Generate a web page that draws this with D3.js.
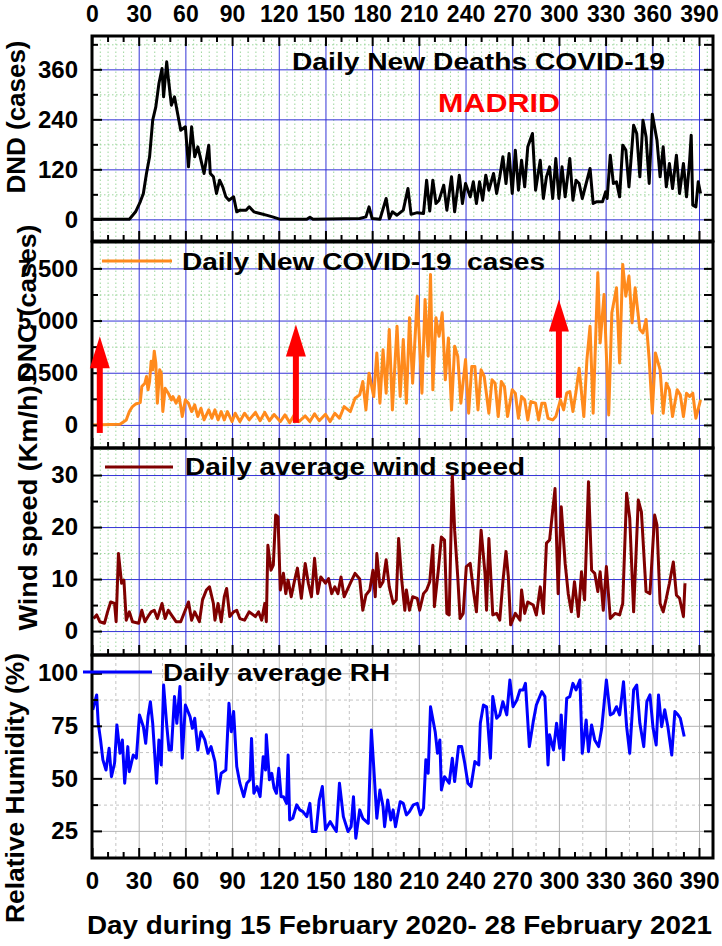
<!DOCTYPE html>
<html>
<head>
<meta charset="utf-8">
<script src="https://cdn.jsdelivr.net/npm/d3@7/dist/d3.min.js"></script>
<style>
  body { margin: 0; background: #fff; }
  svg text { font-family: "Liberation Sans", Arial, Helvetica, sans-serif; font-weight: bold; fill: #000; }
  .legend { white-space: pre; }
</style>
</head>
<body>
<div id="chart"></div>
<script>
// ---- data (day since 15 Feb 2020) ----
const xTicks = [0, 30, 60, 90, 120, 150, 180, 210, 240, 270, 300, 330, 360, 390];

const dndTicks = [0, 120, 240, 360];
const dncTicks = [0, 2500, 5000, 7500];
const windTicks = [0, 10, 20, 30];
const rhTicks = [25, 50, 75, 100];

const dndDays = [0, 24, 28, 31, 33, 35, 37, 39, 41, 43, 45, 46, 48, 49, 51, 53, 55, 57, 60, 62, 64, 66, 68, 70, 72, 75, 76, 78, 80, 82, 84, 86, 88, 91, 93, 95, 99, 101, 104, 108, 112, 116, 121, 138, 140, 142, 172, 176, 178, 180, 185, 189, 191, 193, 196, 200, 203, 205, 209, 213, 215, 217, 219, 221, 223, 226, 228, 231, 233, 236, 238, 240, 243, 245, 247, 249, 251, 253, 255, 258, 260, 262, 264, 266, 268, 270, 272, 274, 276, 278, 280, 283, 285, 288, 290, 292, 294, 296, 298, 300, 302, 304, 307, 309, 311, 313, 315, 320, 322, 324, 328, 330, 331, 333, 335, 337, 339, 341, 343, 345, 348, 350, 352, 354, 356, 358, 360, 363, 365, 367, 369, 371, 373, 375.5, 377.5, 380, 382, 384, 385, 386, 388, 389.5, 391];
const dndValues = [0, 0, 18, 42, 62, 110, 150, 238, 270, 326, 362, 294, 378, 340, 274, 294, 254, 214, 222, 126, 222, 150, 174, 142, 110, 178, 110, 102, 62, 94, 78, 54, 46, 54, 18, 22, 22, 30, 18, 14, 10, 6, 0, 0, 5, 0, 2, 6, 30, 2, 0, 50, 2, 18, 10, 22, 74, 12, 16, 14, 94, 20, 94, 38, 46, 82, 22, 102, 18, 106, 38, 86, 54, 90, 38, 90, 46, 106, 70, 110, 62, 102, 150, 86, 158, 62, 166, 70, 142, 78, 174, 206, 70, 142, 50, 102, 126, 50, 146, 50, 126, 54, 146, 46, 94, 86, 50, 122, 38, 42, 42, 66, 50, 154, 86, 90, 54, 178, 166, 78, 226, 206, 102, 238, 198, 86, 252, 190, 102, 174, 78, 134, 74, 154, 62, 134, 54, 142, 202, 34, 30, 90, 62];

const dncDays = [0, 18, 22, 24, 26, 28, 31, 32, 34, 35, 36, 37, 38, 39, 40, 41, 42, 43.5, 44.5, 45.5, 47, 49, 51, 52, 54, 56, 58, 60, 62, 64, 66, 68, 70, 72, 75, 77, 79, 81, 83, 85, 87, 90, 92, 95, 98, 101, 105, 108, 111, 114, 117, 121, 124, 127, 130, 133, 137, 140, 143, 146, 150, 153, 156, 159, 162, 166, 169, 172, 174, 176, 178, 181, 183, 185, 187, 189, 191, 193, 196, 198, 200, 202, 204, 206, 209, 212, 214, 216, 217.5, 219, 221, 223, 225, 227, 229, 231, 233, 235, 237, 240, 242, 244, 246, 248, 250, 252, 255, 257, 259, 261, 263, 265, 267, 270, 272, 274, 276, 278, 280, 282, 285, 287, 289, 291, 293, 296, 298, 301, 303, 305, 307, 309, 311, 313, 316, 318, 320, 322, 325, 326.5, 329, 332, 334, 337, 339, 341, 343, 345, 347, 349, 352, 354, 356, 358, 360, 362, 365, 367, 369, 371, 373, 376, 378, 380, 382, 384, 386, 388, 391];
const dncValues = [0, 30, 240, 640, 880, 1000, 1070, 1840, 2000, 2320, 1680, 2080, 3050, 2640, 3530, 2970, 1040, 2640, 2480, 640, 1760, 1520, 1200, 1360, 1040, 1360, 400, 1200, 1040, 640, 960, 400, 800, 240, 720, 320, 720, 240, 640, 240, 640, 160, 560, 160, 560, 240, 600, 200, 600, 200, 500, 160, 480, 110, 480, 160, 430, 160, 530, 200, 510, 160, 560, 320, 880, 640, 1280, 1440, 2080, 720, 2480, 1360, 3450, 1040, 3600, 1520, 4570, 720, 4730, 1360, 4090, 1040, 5130, 2000, 6170, 1520, 6010, 3290, 7210, 1680, 5130, 4250, 5370, 2160, 4170, 720, 3770, 3290, 1040, 3130, 560, 2800, 2800, 720, 2640, 2320, 560, 2160, 2000, 400, 2080, 1840, 400, 1680, 1520, 320, 1360, 1200, 240, 1120, 1040, 240, 1040, 1040, 320, 240, 400, 1200, 720, 1520, 1600, 640, 1600, 2720, 400, 3130, 4730, 560, 7290, 3930, 6250, 480, 5370, 6570, 2970, 7690, 6170, 7130, 4890, 6570, 4570, 4410, 5050, 3130, 560, 3450, 2640, 560, 2000, 1680, 400, 1680, 1440, 400, 1520, 1360, 1520, 320, 1200];

const windDays = [1, 3, 5, 8, 10, 12, 14.5, 15.5, 17, 19, 20.5, 22, 24, 26, 30, 32, 34, 36, 38, 40, 42, 45, 47, 49, 51, 54, 57, 62, 64, 66, 69, 71, 73.5, 75.5, 78, 79, 81, 83, 85, 86.5, 88.5, 91, 93, 95, 98, 101, 105, 107, 109, 111, 112, 113, 115, 116.5, 118, 119.5, 121, 123, 124.5, 126, 128, 130, 132, 134.5, 137, 139, 141, 143, 145, 147, 150, 152, 154, 156, 158, 160, 162, 166, 169, 172, 174, 176, 178.5, 180.5, 182, 183, 185, 187, 189, 191, 193.5, 195.5, 197, 199, 201, 202, 204, 206, 209, 210.5, 213, 215, 217, 219, 220, 222.5, 224.5, 226.5, 228, 229.5, 231.5, 233, 235, 236.5, 238.5, 240.5, 243, 245, 247, 250, 252.5, 253.5, 255, 257.5, 260, 262, 264, 266, 267.5, 269, 272, 275, 276, 278, 280, 283.5, 285.5, 288, 290, 292, 294, 297.5, 299.5, 301.5, 304, 306, 308, 310, 312.5, 314.5, 316.5, 319, 321, 323, 325, 326.5, 328.5, 330.5, 333, 336, 339, 341, 343.5, 345.5, 348, 351, 353, 356, 358.5, 361.5, 363, 365, 367, 369, 371, 373.5, 375.5, 377.5, 380, 381];
const windValues = [2.4, 3.1, 1.8, 1.5, 3.7, 5.6, 5.3, 1.8, 14.9, 9.2, 9.8, 2.1, 3.7, 1.8, 1.5, 4, 1.8, 2.8, 3.7, 4, 2.4, 5.3, 2.4, 4, 3.1, 1.8, 1.8, 5.6, 2.1, 3.7, 1.8, 6, 7.9, 8.5, 5.3, 2.1, 5.3, 1.8, 6.6, 8.2, 2.8, 3.7, 4, 2.4, 2.1, 3.7, 2.8, 3.7, 2.1, 5.3, 1.8, 16.5, 11.7, 12.7, 22.3, 22, 7.9, 11.1, 7.2, 9.8, 6.6, 9.5, 12.1, 6.3, 13, 9.2, 6.6, 14, 7.2, 10.4, 9.2, 10.1, 7.2, 8.5, 7.2, 10.4, 6.6, 9.2, 11.1, 10, 4, 6.9, 7.9, 11.7, 6.6, 14.9, 8.5, 9.5, 13.7, 8.5, 5.3, 6, 17.8, 9.8, 4, 7.9, 4, 6.6, 6.3, 4, 7.2, 7.9, 9.5, 16.5, 4.7, 11.7, 18.1, 17.5, 3.4, 3.1, 30, 19.4, 10.4, 2.4, 3.4, 12.4, 13, 7.9, 3.7, 19.4, 11.1, 4, 17.8, 3.1, 3.4, 2.1, 9.5, 15.3, 10.4, 1.2, 3.4, 2.1, 7.9, 3.4, 5.6, 5, 3.1, 8.5, 3.4, 16.9, 17.5, 27.4, 7.2, 23.9, 13, 7.2, 3.7, 9.5, 2.8, 11.4, 6, 28.7, 11.7, 11.1, 7.6, 11.4, 4, 12.4, 2.4, 3.4, 3.1, 5.3, 26.5, 21.7, 3.7, 25.2, 22.9, 7.6, 7.2, 22.3, 20.4, 5.3, 3.7, 6.3, 9.2, 13.3, 6.9, 6.3, 2.8, 9.2];

const rhDays = [0.5, 3, 4, 5.5, 7, 9, 11, 12.5, 14.5, 16, 18, 19.5, 21, 23, 24, 26.5, 28.5, 30.5, 33, 34.5, 36, 37.5, 39, 41.5, 43, 44.5, 46, 48, 49.5, 51, 53, 54.5, 56.5, 58, 60, 63, 64.5, 66, 68, 70, 72.5, 74.5, 76.5, 79, 81, 83, 86, 88, 89.5, 91, 93, 95, 97.5, 99.5, 101.5, 102.5, 104, 106, 108, 110, 111.5, 112, 114, 115.5, 117, 118.5, 120, 121.5, 123, 125, 126, 127, 129, 131.5, 133.5, 135.5, 138, 140, 141.5, 144, 146, 148, 150, 153, 155, 157, 159, 161.5, 164.5, 166.5, 168, 169.5, 172, 174, 177.5, 179.5, 181, 183, 185, 187, 188, 190, 192, 193.5, 195, 198, 200, 202, 204, 206.5, 209, 211, 213, 214.5, 216, 217.5, 220.5, 222, 223.5, 224.5, 226.5, 229.5, 231.5, 233, 235.5, 237.5, 239.5, 241.5, 243.5, 246, 248.5, 249.5, 251.5, 253.5, 256, 257.5, 260, 262, 264, 266.5, 268.5, 270.5, 273, 275, 277, 278.5, 281, 283.5, 285.5, 289, 291, 293, 294, 296.5, 298.5, 300.5, 301.5, 303, 305, 307, 309, 311, 313.5, 315, 317.5, 319, 321, 323, 325.5, 327.5, 330.5, 333, 335, 337, 339, 341.5, 343.5, 345.5, 348, 350, 352, 354.5, 356.5, 358.5, 360.5, 362.5, 364, 366, 368, 370, 372.5, 374.5, 376.5, 378, 380.5];
const rhValues = [82.6, 89.7, 76.2, 68.3, 58.8, 54, 64.3, 50.8, 57.2, 75.4, 61.9, 68.3, 47.7, 65.1, 53.2, 61.1, 59.6, 80.2, 74.6, 66.7, 79.4, 86.5, 76.2, 47.7, 68.3, 56.4, 94.4, 75.4, 63.5, 63.5, 88.9, 76.2, 93.7, 59.6, 84.9, 79.4, 73.8, 78.6, 63.5, 72.2, 68.3, 61.9, 65.1, 58, 42.9, 52.4, 54, 85.7, 72.2, 81.8, 55.6, 47.7, 41.3, 47.7, 49.3, 69, 42.9, 46.1, 41.3, 60.3, 54, 70.7, 49.3, 52.4, 45.3, 42.9, 54.8, 41.3, 41.3, 38.1, 61.1, 30.2, 31, 37.4, 35, 34.2, 31.8, 38.1, 24.7, 24.7, 39.7, 46.1, 25.6, 29.4, 27, 24.7, 47.7, 31.8, 24.7, 27, 41.3, 21.5, 35, 31, 28.6, 73, 55.6, 31, 44.5, 36.6, 27, 39.7, 30.2, 35, 27, 38.9, 38.1, 32.6, 34.2, 37.4, 38.1, 32.6, 35.8, 58.8, 52.4, 84.1, 72.2, 61.9, 68.3, 44.5, 50.8, 47.7, 59.6, 48.5, 65.1, 65.1, 57.2, 47.7, 46.1, 58, 56.4, 76.2, 84.9, 84.1, 59.6, 88.9, 78.6, 80.2, 86.5, 80.2, 96.8, 84.1, 87.3, 92.1, 92.1, 95.2, 65.1, 77, 84.9, 91.3, 88.9, 56.4, 70.7, 63.5, 76.2, 64.3, 80.2, 58.8, 88.1, 88.9, 95.2, 92.1, 96.8, 61.9, 77.8, 62.7, 75.4, 68.3, 65.1, 73.8, 96.8, 80.2, 81, 84.1, 80.2, 96, 74.6, 61.9, 92.1, 94.4, 76.2, 65.1, 86.5, 89.7, 73.8, 65.9, 89.7, 74.6, 82.6, 74.6, 61.1, 81.8, 80.2, 78.6, 69.9];

// red arrows drawn on the DNC panel (day, tail value, tip value)
const arrowDays = [5, 131, 300];
const arrowFrom = [-385, 96, 1298];
const arrowTo = [4245, 4808, 6010];

// ---- layout ----
const W = 722, H = 946;
const left = 92, right = 713;

const svg = d3.select("#chart").append("svg")
  .attr("width", W).attr("height", H);

const x = d3.scaleLinear().domain([0, 399]).range([left, right]);

const panels = [
  { days: dndDays, values: dndValues, color: "#000000", top: 36, bottom: 241, domain: [-52, 440],
    major: dndTicks, minor: [60, 180, 300, 420], grid: "blue",
    title: "DND (cases)", titleX: 25, titleY: 117, titleLen: 153,
    legend: "Daily New Deaths COVID-19", legendX: 292, legendY: 70, legendLen: 373, sample: false },
  { days: dncDays, values: dncValues, color: "#ff8a1c", top: 242, bottom: 448, domain: [-1106, 8764],
    major: dncTicks, minor: [1250, 3750, 6250], grid: "blue",
    title: "DNC (cases)", titleX: 36, titleY: 303, titleLen: 157,
    legend: "Daily New COVID-19  cases", legendX: 182, legendY: 270, legendLen: 363, sample: true, lineX: [102, 172], lineY: 261 },
  { days: windDays, values: windValues, color: "#800000", top: 448, bottom: 655, domain: [-4.6, 35.2],
    major: windTicks, minor: [5, 15, 25], grid: "blue",
    title: "Wind speed (Km/h)", titleX: 37, titleY: 508, titleLen: 245,
    legend: "Daily average wind speed", legendX: 185, legendY: 475, legendLen: 340, sample: true, lineX: [105, 173], lineY: 467 },
  { days: rhDays, values: rhValues, color: "#0000ff", top: 655, bottom: 858, domain: [12.1, 108.7],
    major: rhTicks, minor: [37.5, 62.5, 87.5], grid: "grey",
    title: "Relative Humidity (%)", titleX: 24, titleY: 788, titleLen: 270,
    legend: "Daily average RH", legendX: 163, legendY: 681, legendLen: 227, sample: true, lineX: [83, 152], lineY: 672 }
];

const minorX = d3.range(10, 400, 10).filter(d => d % 30 !== 0);
const dotX = d3.range(5, 400, 5).filter(d => d % 30 !== 0);
const dotXGrey = d3.range(15, 400, 30);

panels.forEach((p, i) => {
  const y = d3.scaleLinear().domain(p.domain).range([p.bottom, p.top]);
  p.y = y;
  const g = svg.append("g");
  const h = p.bottom - p.top;
  const w = right - left;

  // grid
  const blue = p.grid === "blue";
  const dotColor = blue ? "#9cd69c" : "#c4c4c4";
  const dash = blue ? "1.5,2.5" : "3,3";
  g.append("g").attr("class", "grid")
    .attr("transform", `translate(0, ${p.bottom})`)
    .call(d3.axisBottom(x).tickValues(blue ? dotX : dotXGrey).tickFormat("").tickSize(-h))
    .call(s => s.select(".domain").remove())
    .selectAll("line").attr("stroke", dotColor).attr("stroke-dasharray", dash);
  g.append("g").attr("class", "grid")
    .attr("transform", `translate(${left}, 0)`)
    .call(d3.axisLeft(y).tickValues(p.minor.filter(v => v < p.domain[1] - 0.5)).tickFormat("").tickSize(-w))
    .call(s => s.select(".domain").remove())
    .selectAll("line").attr("stroke", dotColor).attr("stroke-dasharray", dash);
  const majorColor = blue ? "#3333d6" : "#b4b4b4";
  g.append("g").attr("class", "grid")
    .attr("transform", `translate(0, ${p.bottom})`)
    .call(d3.axisBottom(x).tickValues(xTicks).tickFormat("").tickSize(-h))
    .call(s => s.select(".domain").remove())
    .selectAll("line").attr("stroke", majorColor).attr("stroke-width", 1);
  g.append("g").attr("class", "grid")
    .attr("transform", `translate(${left}, 0)`)
    .call(d3.axisLeft(y).tickValues(p.major).tickFormat("").tickSize(-w))
    .call(s => s.select(".domain").remove())
    .selectAll("line").attr("stroke", majorColor).attr("stroke-width", 1);

  // series line
  const line = d3.line().x(d => x(d[0])).y(d => y(d[1]));
  g.append("path")
    .datum(p.days.map((d, k) => [d, p.values[k]]))
    .attr("fill", "none")
    .attr("stroke", p.color)
    .attr("stroke-width", 3)
    .attr("stroke-linejoin", "round")
    .attr("d", line);

  // inward ticks: left (with labels), right, bottom
  const tickStyle = s => {
    s.select(".domain").remove();
    s.selectAll("line").attr("stroke", "#000").attr("stroke-width", 2);
  };
  g.append("g")
    .attr("transform", `translate(${left}, 0)`)
    .call(d3.axisLeft(y).tickValues(p.major).tickSize(-10).tickPadding(14))
    .call(tickStyle)
    .selectAll("text").attr("font-size", 24).attr("fill", "#000");
  g.append("g")
    .attr("transform", `translate(${left}, 0)`)
    .call(d3.axisLeft(y).tickValues(p.minor.filter(v => v < p.domain[1] - 0.5)).tickFormat("").tickSize(-6))
    .call(tickStyle);
  g.append("g")
    .attr("transform", `translate(${right}, 0)`)
    .call(d3.axisRight(y).tickValues(p.major.concat(p.minor).filter(v => v < p.domain[1] - 0.5)).tickFormat("").tickSize(-9))
    .call(tickStyle);
  g.append("g")
    .attr("transform", `translate(0, ${p.bottom})`)
    .call(d3.axisBottom(x).tickValues(xTicks).tickFormat("").tickSize(-10))
    .call(tickStyle);
  g.append("g")
    .attr("transform", `translate(0, ${p.bottom})`)
    .call(d3.axisBottom(x).tickValues(minorX).tickFormat("").tickSize(-6))
    .call(tickStyle);

  // frame
  g.append("rect")
    .attr("x", left).attr("y", p.top)
    .attr("width", w).attr("height", h)
    .attr("fill", "none").attr("stroke", "#000").attr("stroke-width", 3);

  // legend
  if (p.sample) {
    g.append("line")
      .attr("x1", p.lineX[0]).attr("x2", p.lineX[1])
      .attr("y1", p.lineY).attr("y2", p.lineY)
      .attr("stroke", p.color).attr("stroke-width", 3);
  }
  g.append("text")
    .attr("class", "legend")
    .attr("x", p.legendX).attr("y", p.legendY)
    .attr("font-size", 23)
    .attr("textLength", p.legendLen)
    .attr("lengthAdjust", "spacingAndGlyphs")
    .text(p.legend);

  // y title
  svg.append("text")
    .attr("transform", `translate(${p.titleX}, ${p.titleY}) rotate(-90)`)
    .attr("text-anchor", "middle")
    .attr("font-size", 26)
    .attr("textLength", p.titleLen)
    .attr("lengthAdjust", "spacingAndGlyphs")
    .text(p.title);
});

// top axis of first panel
const p0 = panels[0];
svg.append("g")
  .attr("transform", `translate(0, ${p0.top})`)
  .call(d3.axisTop(x).tickValues(xTicks).tickSize(-10).tickPadding(14))
  .call(s => s.select(".domain").remove())
  .call(s => s.selectAll("line").attr("stroke", "#000").attr("stroke-width", 2))
  .selectAll("text").attr("font-size", 23).attr("fill", "#000");
svg.append("g")
  .attr("transform", `translate(0, ${p0.top})`)
  .call(d3.axisTop(x).tickValues(minorX).tickFormat("").tickSize(-6))
  .call(s => s.select(".domain").remove())
  .selectAll("line").attr("stroke", "#000").attr("stroke-width", 2);

// bottom axis labels
const pl = panels[panels.length - 1];
svg.append("g")
  .attr("transform", `translate(0, ${pl.bottom})`)
  .call(d3.axisBottom(x).tickValues(xTicks).tickSize(0).tickPadding(14))
  .call(s => s.select(".domain").remove())
  .selectAll("text").attr("font-size", 24).attr("fill", "#000");

svg.append("text")
  .attr("x", 87).attr("y", 934)
  .attr("font-size", 25)
  .attr("textLength", 625)
  .attr("lengthAdjust", "spacingAndGlyphs")
  .text("Day during 15 February 2020- 28 February 2021");

// MADRID tag
svg.append("text")
  .attr("x", 438).attr("y", 112)
  .attr("font-size", 25)
  .attr("textLength", 122)
  .attr("lengthAdjust", "spacingAndGlyphs")
  .style("fill", "#ff0000")
  .text("MADRID");

// arrows on the DNC panel
const ya = panels[1].y;
const arrows = svg.append("g");
arrowDays.forEach((d, k) => {
  const ax = x(d), y0 = ya(arrowFrom[k]), y1 = ya(arrowTo[k]);
  arrows.append("line")
    .attr("x1", ax).attr("x2", ax)
    .attr("y1", y0).attr("y2", y1 + 28)
    .attr("stroke", "#ff0000").attr("stroke-width", 6);
  arrows.append("path")
    .attr("d", `M${ax},${y1} L${ax - 10},${y1 + 32} L${ax + 10},${y1 + 32} Z`)
    .attr("fill", "#ff0000");
});
</script>
</body>
</html>
